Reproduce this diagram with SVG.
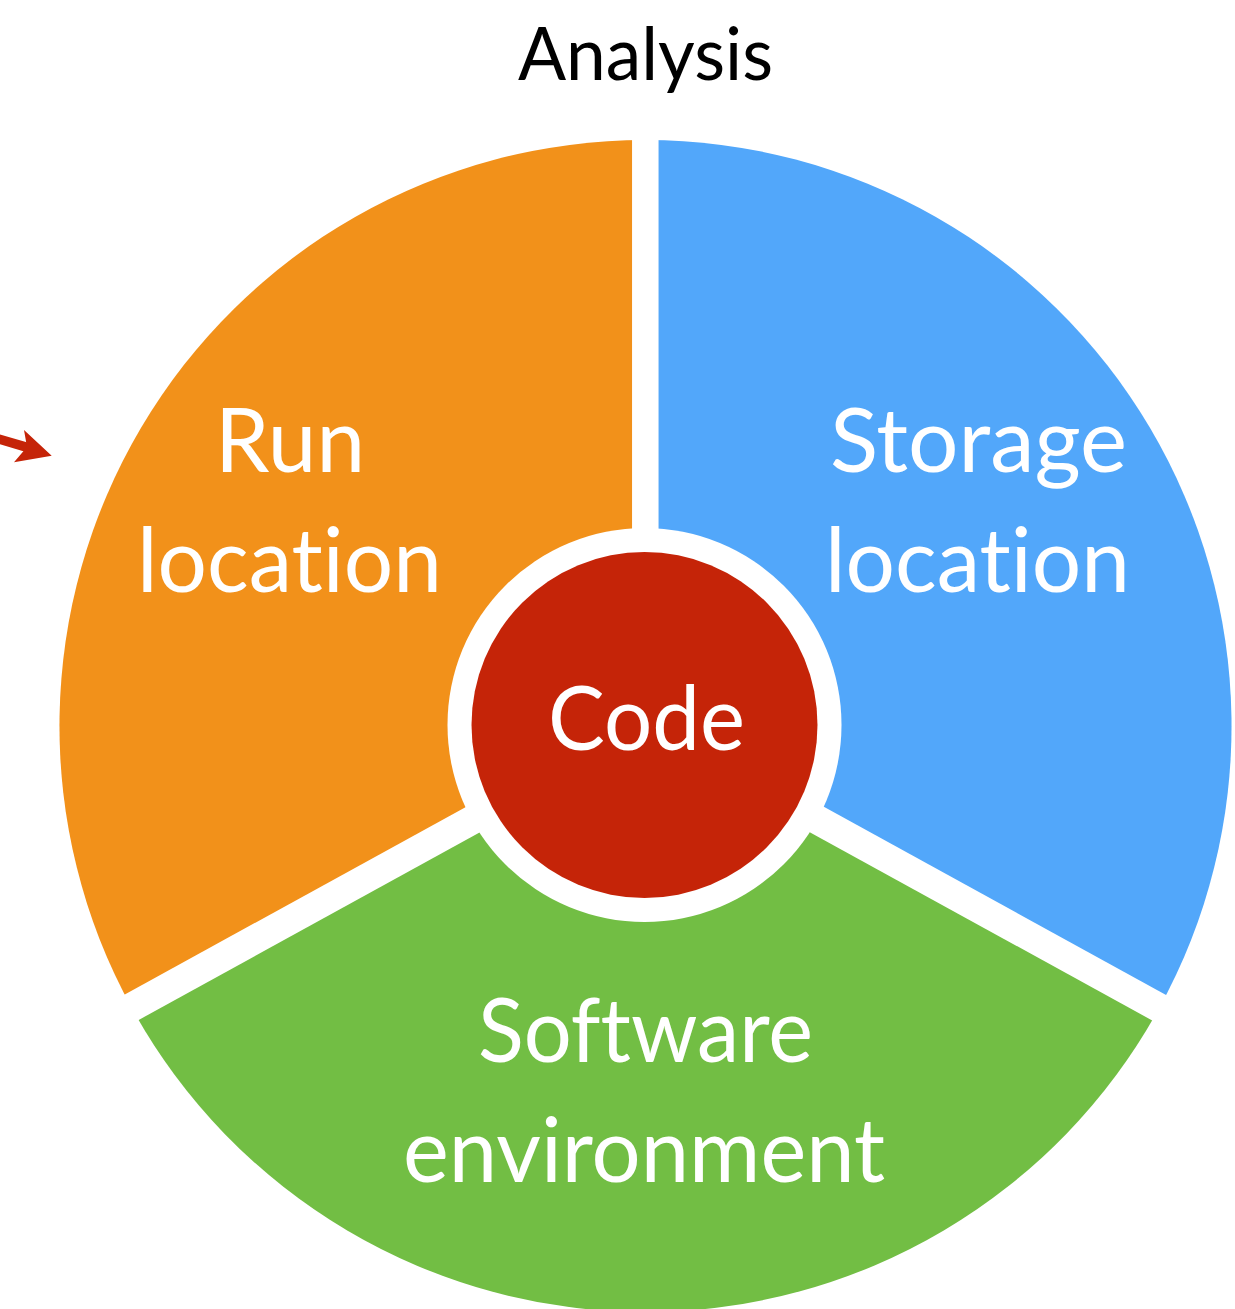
<svg xmlns="http://www.w3.org/2000/svg" width="1235" height="1309" viewBox="0 0 1235 1309">
<style>
.lbl{font-family:Lato,"Liberation Sans",sans-serif;font-size:90px;fill:#ffffff;text-anchor:middle;font-variant-ligatures:none;font-feature-settings:"liga" 0,"clig" 0}
.title{font-family:Lato,"Liberation Sans",sans-serif;font-size:74px;fill:#000000;text-anchor:middle;font-variant-ligatures:none}
.sep{stroke:#ffffff;fill:none}
</style>
<rect width="1235" height="1309" fill="#ffffff"/>
<g id="run-location">
<path d="M645.5,726 L645.5,140 A586,586 0 0,0 132,1008.4 Z" fill="#F2911A"/>
<text class="lbl" x="290" y="472" textLength="150" lengthAdjust="spacingAndGlyphs">Run</text>
<text class="lbl" x="289.5" y="592" textLength="305" lengthAdjust="spacingAndGlyphs">location</text>
</g>
<g id="storage-location">
<path d="M645.5,726 L645.5,140 A586,586 0 0,1 1159,1008.4 Z" fill="#52A7FA"/>
<text class="lbl" x="978.5" y="472" textLength="297" lengthAdjust="spacingAndGlyphs">Storage</text>
<text class="lbl" x="977.5" y="592" textLength="305" lengthAdjust="spacingAndGlyphs">location</text>
</g>
<g id="software-environment">
<path d="M645.5,726 L1159,1008.4 A586,586 0 0,1 132,1008.4 Z" fill="#72BE44"/>
<text class="lbl" x="645.5" y="1062" textLength="335" lengthAdjust="spacingAndGlyphs">Software</text>
<text class="lbl" x="644" y="1182" textLength="482" lengthAdjust="spacingAndGlyphs">environment</text>
</g>
<g id="separators">
<line class="sep" x1="645.3" y1="100" x2="645.3" y2="725" stroke-width="26.5"/>
<line class="sep" x1="645" y1="725" x2="1200" y2="1030.2" stroke-width="29"/>
<line class="sep" x1="645" y1="725" x2="90" y2="1030.2" stroke-width="29"/>
<circle cx="644.5" cy="725" r="197" fill="#ffffff"/>
</g>
<g id="code">
<circle cx="644.5" cy="725" r="173" fill="#C52408"/>
<text class="lbl" x="646.5" y="750" textLength="197" lengthAdjust="spacingAndGlyphs">Code</text>
</g>
<g id="analysis">
<text class="title" x="645.5" y="80" textLength="255" lengthAdjust="spacingAndGlyphs">Analysis</text>
</g>
<g id="connectors">
<path d="M-10,436.4 L28,447.6" stroke="#C52408" stroke-width="9.5" fill="none"/>
<path d="M51.7,455.7 L24,430 L27,447 L14,462.3 Z" fill="#C52408"/>
</g>
</svg>
